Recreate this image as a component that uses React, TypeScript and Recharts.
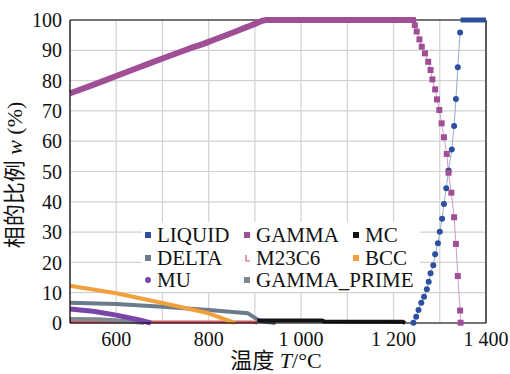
import { LineChart, Line, XAxis, YAxis, CartesianGrid, ReferenceLine } from "recharts";

// phase fractions (%), temperature in °C
const liquidRise = [
  { T: 1243, v: 0.1 }, { T: 1249, v: 2.1 }, { T: 1254, v: 4.3 }, { T: 1260, v: 6.7 },
  { T: 1266, v: 8.7 }, { T: 1272, v: 11.1 }, { T: 1276, v: 13.6 }, { T: 1280, v: 16.4 },
  { T: 1286, v: 19.1 }, { T: 1290, v: 22.7 }, { T: 1296, v: 26.3 }, { T: 1300, v: 30.1 },
  { T: 1305, v: 34.4 }, { T: 1309, v: 39.3 }, { T: 1314, v: 44.5 }, { T: 1319, v: 50.3 },
  { T: 1326, v: 57.3 }, { T: 1331, v: 65.0 }, { T: 1335, v: 73.9 }, { T: 1339, v: 84.4 },
  { T: 1344, v: 95.9 },
];
const liquidTop = [{ T: 1345, v: 100 }, { T: 1400, v: 100 }];

const gammaSolid = [
  { T: 500, v: 75.8 }, { T: 550, v: 78.6 }, { T: 600, v: 81.5 }, { T: 650, v: 84.4 },
  { T: 700, v: 87.3 }, { T: 750, v: 90.1 }, { T: 800, v: 92.8 }, { T: 850, v: 95.7 },
  { T: 895, v: 98.4 }, { T: 925, v: 100 }, { T: 1242, v: 100 },
];
const gammaDrop = [
  { T: 1242, v: 100 }, { T: 1246, v: 98.3 }, { T: 1250, v: 96.2 }, { T: 1256, v: 93.6 },
  { T: 1261, v: 91.2 }, { T: 1268, v: 89.0 }, { T: 1275, v: 86.2 }, { T: 1280, v: 83.5 },
  { T: 1284, v: 80.4 }, { T: 1290, v: 77.1 }, { T: 1294, v: 73.8 }, { T: 1299, v: 70.3 },
  { T: 1304, v: 65.9 }, { T: 1309, v: 61.3 }, { T: 1315, v: 55.8 }, { T: 1319, v: 49.6 },
  { T: 1325, v: 43.0 }, { T: 1331, v: 34.9 }, { T: 1335, v: 26.1 }, { T: 1339, v: 15.5 },
  { T: 1344, v: 4.1 }, { T: 1345, v: 0.1 },
];

const mc = [{ T: 905, v: 0.8 }, { T: 1045, v: 0.8 }, { T: 1050, v: 0.5 }, { T: 1220, v: 0.4 }, { T: 1225, v: 0 }];
const delta = [
  { T: 500, v: 6.7 }, { T: 600, v: 6.3 }, { T: 700, v: 5.4 }, { T: 800, v: 4.3 },
  { T: 885, v: 3.2 }, { T: 896, v: 2.1 }, { T: 907, v: 1.0 }, { T: 922, v: 0.4 }, { T: 945, v: 0 },
];
const m23c6 = [{ T: 500, v: 0.3 }, { T: 895, v: 0.3 }, { T: 905, v: 0 }];
const bcc = [{ T: 500, v: 12.3 }, { T: 600, v: 9.8 }, { T: 700, v: 6.6 }, { T: 800, v: 3.2 }, { T: 857, v: 0 }];
const mu = [{ T: 500, v: 4.6 }, { T: 550, v: 3.9 }, { T: 600, v: 2.6 }, { T: 650, v: 1.0 }, { T: 675, v: 0 }];
const gammaPrime = [{ T: 500, v: 1.3 }, { T: 560, v: 1.2 }, { T: 600, v: 0.9 }, { T: 640, v: 0.3 }, { T: 660, v: 0 }];

const xTicks = [500, 600, 700, 800, 900, 1000, 1100, 1200, 1300, 1400];
const xLabels: Record<number, string> = { 600: "600", 800: "800", 1000: "1 000", 1200: "1 200", 1400: "1 400" };
const yTicks = [0, 10, 20, 30, 40, 50, 60, 70, 80, 90, 100];

const C = {
  liquid: "#2c509e",
  gamma: "#a04f97",
  mc: "#141414",
  delta: "#6b7b8b",
  m23c6: "#cf5a66",
  bcc: "#f0a03c",
  mu: "#7a45a8",
  gp: "#7d8891",
};

const serif = "'Liberation Serif', 'Times New Roman', 'DejaVu Serif', serif";
const cjk = "'Liberation Serif', 'Noto Sans CJK SC', serif";

const legendItems = [
  { name: "LIQUID", color: C.liquid, shape: "square", x: 148, y: 235 },
  { name: "GAMMA", color: C.gamma, shape: "square", x: 247, y: 235 },
  { name: "MC", color: C.mc, shape: "square", x: 356, y: 235 },
  { name: "DELTA", color: C.delta, shape: "square", x: 148, y: 258 },
  { name: "M23C6", color: C.m23c6, shape: "cross", x: 247, y: 258 },
  { name: "BCC", color: C.bcc, shape: "square", x: 356, y: 258 },
  { name: "MU", color: C.mu, shape: "circle", x: 148, y: 280 },
  { name: "GAMMA_PRIME", color: C.gp, shape: "square", x: 247, y: 280 },
];

const squareDot = (color: string) => (p: any) => (
  <rect key={`s-${p.index}`} x={p.cx - 3} y={p.cy - 3} width={6} height={6} fill={color} />
);
const circleDot = (color: string) => (p: any) => (
  <circle key={`c-${p.index}`} cx={p.cx} cy={p.cy} r={3} fill={color} />
);

const tickStyle = { fontSize: 20, fill: "#111", fontFamily: serif, style: { fontFamily: serif } };

export default function App() {
  return (
    <div style={{ position: "fixed", left: 0, top: 0, width: 510, height: 374, background: "#fff", fontFamily: serif }}>
      <LineChart width={510} height={374} margin={{ top: 20, right: 24, left: 20, bottom: 0 }}>
        <CartesianGrid stroke="#d2d2d2" strokeWidth={1.2} />
        <XAxis
          dataKey="T"
          type="number"
          domain={[500, 1400]}
          ticks={xTicks}
          tickFormatter={(v: number) => xLabels[v] ?? ""}
          tick={tickStyle}
          tickLine={false}
          tickMargin={3}
          axisLine={{ stroke: "#000", strokeWidth: 1.2 }}
          height={51}
          interval={0}
        />
        <YAxis
          type="number"
          domain={[0, 100]}
          ticks={yTicks}
          tick={tickStyle}
          tickLine={false}
          axisLine={{ stroke: "#000", strokeWidth: 1.2 }}
          width={50}
          interval={0}
        />
        <ReferenceLine y={100} stroke="#000" strokeWidth={1.2} />
        <ReferenceLine x={1400} stroke="#000" strokeWidth={1.2} />

        <Line data={liquidRise} dataKey="v" stroke="#9aaad0" strokeWidth={1} dot={circleDot(C.liquid)} activeDot={false} isAnimationActive={false} />
        <Line data={liquidTop} dataKey="v" stroke={C.liquid} strokeWidth={5} dot={false} activeDot={false} isAnimationActive={false} />
        <Line data={gammaDrop} dataKey="v" stroke="#cf9cc8" strokeWidth={1} dot={squareDot(C.gamma)} activeDot={false} isAnimationActive={false} />
        <Line data={gammaSolid} type="monotone" dataKey="v" stroke={C.gamma} strokeWidth={6} strokeLinejoin="round" dot={false} activeDot={false} isAnimationActive={false} />
        <Line data={m23c6} dataKey="v" stroke={C.m23c6} strokeWidth={3} dot={false} activeDot={false} isAnimationActive={false} />
        <Line data={delta} dataKey="v" stroke={C.delta} strokeWidth={4} strokeLinejoin="round" dot={false} activeDot={false} isAnimationActive={false} />
        <Line data={bcc} dataKey="v" stroke={C.bcc} strokeWidth={4} strokeLinejoin="round" dot={false} activeDot={false} isAnimationActive={false} />
        <Line data={gammaPrime} dataKey="v" stroke={C.gp} strokeWidth={4} dot={false} activeDot={false} isAnimationActive={false} />
        <Line data={mu} dataKey="v" stroke={C.mu} strokeWidth={5} strokeLinejoin="round" dot={false} activeDot={false} isAnimationActive={false} />
        <Line data={mc} dataKey="v" stroke={C.mc} strokeWidth={4} dot={false} activeDot={false} isAnimationActive={false} />
      </LineChart>

      <svg width={510} height={374} style={{ position: "absolute", left: 0, top: 0, pointerEvents: "none" }}>
        <rect x={142} y={222} width={278} height={70} fill="#fff" />
        {legendItems.map((it) => (
          <g key={it.name}>
            {it.shape === "square" && <rect x={it.x - 3} y={it.y - 3} width={6} height={6} fill={it.color} />}
            {it.shape === "circle" && <circle cx={it.x} cy={it.y} r={3} fill={it.color} />}
            {it.shape === "cross" && (
              <path d={`M${it.x - 1} ${it.y - 3} L${it.x - 1} ${it.y + 3} L${it.x + 3} ${it.y + 3}`} stroke={it.color} strokeWidth={1.2} fill="none" />
            )}
            <text x={it.x + 9} y={it.y + 7} fontSize={21} style={{ fontFamily: serif }} fill="#111">
              {it.name}
            </text>
          </g>
        ))}
        <text x={276} y={368} textAnchor="middle" fontSize={22} style={{ fontFamily: cjk }} fill="#111">
          温度 <tspan fontStyle="italic">T</tspan>/°C
        </text>
        <text transform="translate(22,175) rotate(-90)" textAnchor="middle" fontSize={22} style={{ fontFamily: cjk }} fill="#111">
          相的比例 <tspan fontStyle="italic">w</tspan> (%)
        </text>
      </svg>
    </div>
  );
}
